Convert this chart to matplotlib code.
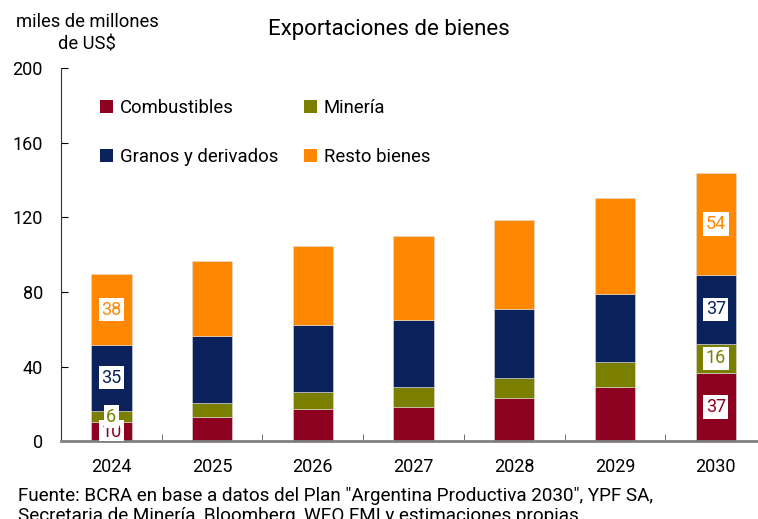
import numpy as np
import matplotlib
matplotlib.use("Agg")
import matplotlib.pyplot as plt
from matplotlib.patches import Patch

plt.rcParams['font.family'] = ['Roboto', 'DejaVu Sans']

# data (miles de millones de US$)
years = ['2024', '2025', '2026', '2027', '2028', '2029', '2030']
combustibles = [10, 13, 17.2, 18.3, 22.9, 28.8, 36.5]
mineria = [6.3, 7.6, 8.9, 10.9, 11.2, 13.8, 15.7]
granos = [35.4, 35.6, 35.9, 35.8, 36.5, 36.5, 37]
resto = [37.7, 40.2, 42.7, 45.2, 48.1, 51.4, 54.5]

series_names = ['Combustibles', 'Minería', 'Granos y derivados', 'Resto bienes']
colors = ['#8c0020', '#7b7f00', '#0a215c', '#ff8800']
labels_2024 = ['10', '6', '35', '38']
labels_2030 = ['37', '16', '37', '54']

fig = plt.figure(figsize=(7.58, 5.19), dpi=100)
ax = fig.add_axes([0.0805, 0.150, 0.9195, 0.719])

x = np.arange(len(years))
width = 0.4
series = [combustibles, mineria, granos, resto]
bottom = np.zeros(len(years))
for vals, col in zip(series, colors):
    ax.bar(x, vals, width, bottom=bottom, color=col, edgecolor='#dddddd', linewidth=0.4)
    bottom += np.array(vals)

# value labels on first and last bar
for idx, labs in [(0, labels_2024), (6, labels_2030)]:
    base = 0
    for vals, col, lab in zip(series, colors, labs):
        mid = base + vals[idx] / 2
        ax.text(x[idx], mid, lab, ha='center', va='center', color=col, fontsize=13,
                bbox=dict(facecolor='white', edgecolor='none', pad=2), clip_on=True)
        base += vals[idx]

ax.set_xlim(-0.5, 6.42)
ax.set_ylim(0, 200)
ax.set_yticks([0, 40, 80, 120, 160, 200])
ax.set_xticks(x)
ax.set_xticklabels(years)
ax.set_xticks(x[:-1] + 0.5, minor=True)
ax.tick_params(axis='x', which='major', length=0, labelsize=13, pad=12)
ax.tick_params(axis='x', which='minor', direction='in', length=5, color='#555555')
ax.tick_params(axis='y', direction='in', length=5, labelsize=13, pad=13)

for s in ['top', 'right']:
    ax.spines[s].set_visible(False)
ax.spines['bottom'].set_color('#808080')
ax.spines['bottom'].set_linewidth(2)
ax.spines['left'].set_color('#333333')
ax.spines['left'].set_linewidth(0.8)

fig.text(0.513, 0.944, 'Exportaciones de bienes', ha='center', va='center', fontsize=16)
fig.text(0.115, 0.936, 'miles de millones\nde US$', ha='center', va='center', fontsize=13.2,
         linespacing=1.3)

# legend filled by column: row 1 Combustibles / Minería, row 2 Granos / Resto
order = [0, 2, 1, 3]
handles = [Patch(facecolor=colors[i], edgecolor='none') for i in order]
ax.legend(handles, [series_names[i] for i in order], ncol=2, loc='upper left',
          bbox_to_anchor=(0.032, 0.961), frameon=False, fontsize=13.3, handlelength=0.7,
          handleheight=0.7, handletextpad=0.4, columnspacing=1.35, labelspacing=1.65)

fig.text(0.024, 0.062, 'Fuente: BCRA en base a datos del Plan "Argentina Productiva 2030", YPF SA,\n'
         'Secretaria de Minería, Bloomberg, WEO FMI y estimaciones propias',
         ha='left', va='top', fontsize=13.6, linespacing=1.15)

fig.savefig('out.png', dpi=100)
